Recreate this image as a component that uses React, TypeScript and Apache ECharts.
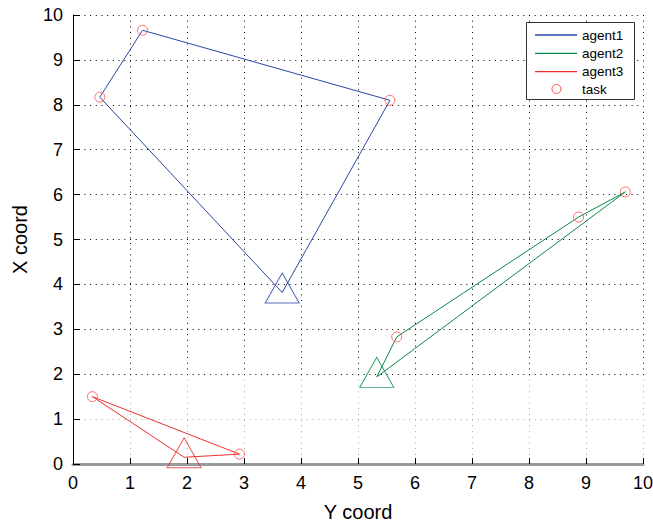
import React, { useEffect, useRef } from "react";
import * as echarts from "echarts";

const axisTicks = [0, 1, 2, 3, 4, 5, 6, 7, 8, 9, 10];
const agentNames = ["agent1", "agent2", "agent3"];
const agentColors = ["#2c46a6", "#068a48", "#ee3030"];
const agent1Route = [[3.67, 3.82], [0.47, 8.17], [1.22, 9.66], [5.56, 8.1], [3.67, 3.82]];
const agent2Route = [[5.33, 1.94], [5.68, 2.83], [8.87, 5.5], [9.69, 6.06], [5.33, 1.94]];
const agent3Route = [[1.95, 0.15], [2.92, 0.22], [0.34, 1.5], [1.95, 0.15]];
const depots = [[3.67, 3.82], [5.33, 1.94], [1.95, 0.15]];
const tasks = [
  [0.47, 8.17], [1.22, 9.66], [5.56, 8.1],
  [5.68, 2.83], [8.87, 5.5], [9.69, 6.06],
  [2.92, 0.22], [0.34, 1.5],
];
const fadedBand = [0, 2];

const FONT = "'Liberation Sans', Arial, sans-serif";

export default function App() {
  const ref = useRef<HTMLDivElement>(null);
  useEffect(() => {
    document.body.style.margin = "0";
    if (!ref.current) return;
    const chart = echarts.init(ref.current, null, { renderer: "svg" });
    const routes = [agent1Route, agent2Route, agent3Route];
    const series: any[] = [];
    routes.forEach((r, i) => {
      series.push({
        type: "line",
        name: agentNames[i],
        data: r,
        symbol: "none",
        showSymbol: false,
        lineStyle: { color: agentColors[i], width: 1 },
        z: 3,
      });
      series.push({
        type: "scatter",
        data: [depots[i]],
        symbol: "triangle",
        symbolSize: [34, 30],
        symbolOffset: [0, -4.5],
        itemStyle: { color: "rgba(0,0,0,0)", borderColor: agentColors[i], borderWidth: 1 },
        z: 3,
      });
    });
    series.push({
      type: "scatter",
      name: "task",
      data: tasks,
      symbol: "circle",
      symbolSize: 10,
      itemStyle: { color: "rgba(0,0,0,0)", borderColor: "#ff4a4a", borderWidth: 1 },
      z: 4,
    });
    const legendItems: any[] = [
      { type: "rect", shape: { x: 526.5, y: 22.5, width: 108, height: 77 }, style: { fill: "#fff", stroke: "#333", lineWidth: 1 }, z: 10 },
    ];
    const rowY = [35, 53.3, 71.7, 89];
    agentNames.forEach((n, i) => {
      legendItems.push({ type: "line", shape: { x1: 535, y1: rowY[i], x2: 577, y2: rowY[i] }, style: { stroke: agentColors[i], lineWidth: 1.3 }, z: 11 });
      legendItems.push({ type: "text", x: 582, y: rowY[i], style: { text: n, fontSize: 13.5, fontFamily: FONT, fill: "#000", verticalAlign: "middle", align: "left" }, z: 11 });
    });
    legendItems.push({ type: "circle", shape: { cx: 556.5, cy: rowY[3], r: 4.5 }, style: { fill: "none", stroke: "#ff4a4a", lineWidth: 1 }, z: 11 });
    legendItems.push({ type: "text", x: 582, y: rowY[3], style: { text: "task", fontSize: 13.5, fontFamily: FONT, fill: "#000", verticalAlign: "middle", align: "left" }, z: 11 });

    const splitStyle = { show: true, lineStyle: { color: "#000", width: 1, type: [1, 4.7] } };
    chart.setOption({
      animation: false,
      backgroundColor: "#fff",
      grid: { left: 73, right: 10, top: 15, bottom: 61, containLabel: false, outerBoundsMode: "none" },
      xAxis: {
        type: "value",
        min: axisTicks[0],
        max: axisTicks[axisTicks.length - 1],
        interval: 1,
        name: "Y coord",
        nameLocation: "middle",
        nameGap: 38,
        nameTextStyle: { fontSize: 20, fontFamily: FONT, color: "#000" },
        axisLine: { show: true, onZero: false, lineStyle: { color: "#9a9a9a", width: 3 } },
        axisTick: { show: true, inside: true, length: 6, lineStyle: { color: "#000", width: 1 } },
        axisLabel: { fontSize: 18, fontFamily: FONT, color: "#000", margin: 10 },
        splitLine: splitStyle,
      },
      yAxis: {
        type: "value",
        min: axisTicks[0],
        max: axisTicks[axisTicks.length - 1],
        interval: 1,
        name: "X coord",
        nameLocation: "middle",
        nameGap: 43,
        nameTextStyle: { fontSize: 20, fontFamily: FONT, color: "#000" },
        axisLine: { show: true, onZero: false, lineStyle: { color: "#000", width: 1 } },
        axisTick: { show: true, inside: true, length: 7, lineStyle: { color: "#000", width: 1 } },
        axisLabel: { fontSize: 18, fontFamily: FONT, color: "#000", margin: 10 },
        splitLine: splitStyle,
      },
      series,
      graphic: legendItems,
    });
    const p0 = chart.convertToPixel({ gridIndex: 0 }, [axisTicks[0], fadedBand[0]]) as number[];
    const p1 = chart.convertToPixel({ gridIndex: 0 }, [axisTicks[axisTicks.length - 1], fadedBand[1]]) as number[];
    chart.setOption({
      graphic: [
        ...legendItems,
        {
          type: "rect",
          shape: { x: p0[0] + 8, y: p1[1] + 2, width: p1[0] - p0[0] - 6, height: p0[1] - p1[1] - 9 },
          style: { fill: "rgba(255,255,255,0.65)" },
          z: 1,
          silent: true,
        },
      ],
    });
    return () => chart.dispose();
  }, []);
  return <div ref={ref} style={{ position: "absolute", left: 0, top: 0, width: 653, height: 525 }} />;
}
